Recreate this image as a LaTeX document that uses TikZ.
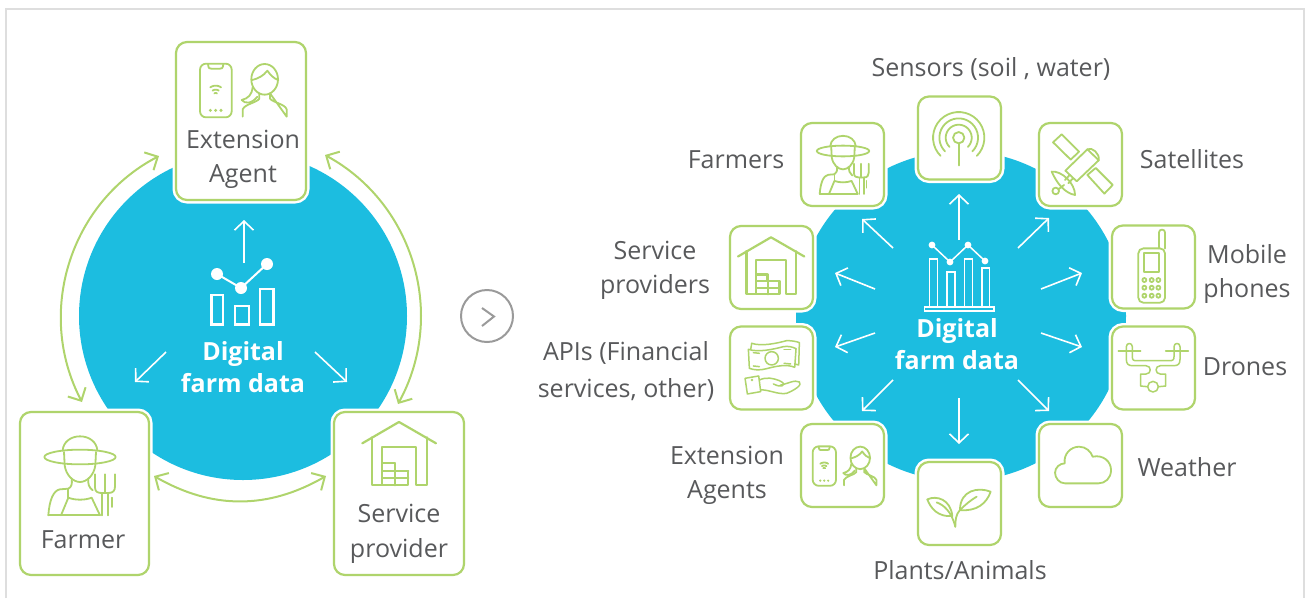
\documentclass[tikz,border=0pt]{standalone}
\usepackage{fontspec}
\setmainfont{Open Sans}
\usetikzlibrary{arrows.meta}
\definecolor{leaf}{HTML}{AFD46C}
\definecolor{hubblue}{HTML}{1CBDE0}
\definecolor{ink}{HTML}{58595B}
\definecolor{framegray}{HTML}{DEDEDE}
\definecolor{ringgray}{HTML}{9A9A9A}
\newcommand{\arcplot}[5]{\draw[shift={(#1,#2)}] plot[domain=#4:#5,samples=28] ({#3*cos(\x)},{#3*sin(\x)});}
\tikzset{
  x=1pt,y=-1pt,
  hub/.style={circle,fill=hubblue,minimum size=#1,inner sep=0pt,outer sep=0pt},
  card/.style={rectangle,rounded corners=11pt,draw=leaf,line width=2.2pt,fill=white,inner sep=0pt,outer sep=0pt,
    preaction={draw=white,line width=7pt}},
  smallcard/.style={card,minimum width=83pt,minimum height=83pt},
  label/.style={text=ink,font=\fontsize{25}{30}\selectfont,inner sep=0pt,align=center},
  hubtext/.style={text=white,font=\fontsize{25}{32}\selectfont\bfseries,inner sep=0pt,align=center},
  whitearrow/.style={draw=white,line width=1.6pt,-{Straight Barb[length=9pt,width=19pt,line width=1.6pt]}},
  greenarrow/.style={draw=leaf,line width=2pt,{Straight Barb[length=10pt,width=20pt,line width=2pt]}-{Straight Barb[length=10pt,width=20pt,line width=2pt]}},
  iconline/.style={draw=leaf,line width=#1,line join=round,line cap=round},
  iconline/.default=1.8pt,
  pics/agenticon/.style={code={
    \begin{scope}[shift={(-729,-270)},iconline]
      \draw[rounded corners=6pt] (600,191) rectangle (695,352);
      \draw (624,193) .. controls (626,206) and (628,206) .. (634,206) -- (660,206) .. controls (666,206) and (668,206) .. (670,193);
      \arcplot{647}{285}{28}{-125}{-55}
      \arcplot{647}{285}{16}{-125}{-55}
      \arcplot{647}{285}{6}{-130}{-50}
      \foreach \q in {631,647,663} {\fill[leaf] (\q,331) circle (5);}
      \draw (794,238) ellipse (40 and 46);
      \draw (757,240) .. controls (775,235) and (790,228) .. (802,212) .. controls (812,226) and (822,236) .. (835,240);
      \draw (758,262) .. controls (755,285) and (745,295) .. (725,300) .. controls (735,312) and (755,312) .. (772,290);
      \draw (728,350) -- (728,328) .. controls (735,312) and (770,308) .. (778,296) -- (778,280);
      \draw (810,280) -- (810,296) .. controls (820,308) and (855,312) .. (860,328) -- (860,350) -- cycle;
    \end{scope}}},
  pics/farmericon/.style={code={
    \begin{scope}[shift={(-240,-470)},iconline]
      \draw (240,470) ellipse (107 and 22);
      \draw (188,450) .. controls (190,425) and (212,408) .. (240,408) .. controls (268,408) and (290,425) .. (292,450);
      \draw (192,455) -- (194,495) .. controls (198,525) and (220,545) .. (240,545) .. controls (260,545) and (282,525) .. (286,495) -- (288,455);
      \draw (145,645) -- (300,645);
      \draw (145,645) .. controls (148,600) and (160,570) .. (180,567) -- (205,565) .. controls (215,560) and (217,550) .. (215,535);
      \draw (265,535) .. controls (263,550) and (267,562) .. (278,570);
      \draw (183,645) -- (205,592) .. controls (225,600) and (255,600) .. (275,592) -- (300,645);
      \draw (205,592) -- (205,565);
      \draw (285,522) -- (285,562) .. controls (285,575) and (295,578) .. (305,578) -- (325,578) .. controls (340,578) and (345,570) .. (345,558) -- (345,522);
      \draw (315,522) -- (315,578);
      \draw (307,578) -- (307,645);
      \draw (325,578) -- (325,645);
      \draw (336,592) -- (336,620);
    \end{scope}}},
  pics/barnicon/.style={code={
    \begin{scope}[shift={(-1197,-460)},iconline=2.2pt]
      \draw (1087,430) -- (1197,366) -- (1308,430);
      \draw (1115,412) -- (1115,556) -- (1147,556) -- (1147,441) -- (1248,441) -- (1248,556) -- (1280,556) -- (1280,412);
      \draw (1150,490) -- (1185,490) -- (1185,512) -- (1225,512) -- (1225,556) -- (1147,556);
      \draw (1150,512) -- (1225,512);
      \draw (1150,534) -- (1225,534);
      \draw (1186,490) -- (1186,556);
    \end{scope}}},
  pics/sensoricon/.style={code={
    \begin{scope}[iconline]
      \draw (0,0) circle (17);
      \draw (0,17) -- (0,83);
      \arcplot{0}{0}{39}{-225}{45}
      \arcplot{0}{0}{58}{-225}{45}
      \arcplot{0}{0}{77}{-225}{45}
    \end{scope}}},
  pics/saticon/.style={code={
    \begin{scope}[shift={(-242,-193)},iconline]
      \draw (159,127) -- (185,103) -- (237,155) -- (212,179) -- cycle;
      \draw (262,225) -- (287,204) -- (338,255) -- (313,281) -- cycle;
      \draw (196,212) -- (262,148) -- (296,181) -- (230,244) -- cycle;
      \draw (262,148) .. controls (275,140) and (300,160) .. (296,181);
      \draw (155,215) .. controls (185,212) and (225,250) .. (225,285);
      \draw (155,215) .. controls (170,250) and (195,280) .. (225,285);
      \draw (208,226) -- (195,240);
      \draw (218,236) -- (205,250);
      \draw (167,273) circle (10);
      \draw (175,268) -- (192,255);
    \end{scope}}},
  pics/phoneicon/.style={code={
    \begin{scope}[shift={(-459,-500)},iconline]
      \draw[rounded corners=5pt] (415,445) rectangle (495,608);
      \draw (477,445) -- (477,397) .. controls (477,386) and (495,386) .. (495,397) -- (495,445);
      \draw (431,459) rectangle (478,515);
      \foreach \q in {433,455,475} {\foreach \r in {540,563,587} {\draw (\q,\r) circle (6);}}
    \end{scope}}},
  pics/droneicon/.style={code={
    \begin{scope}[shift={(-459,-173)},iconline=1.5pt]
      \draw (355,123) -- (422,123);
      \draw (497,123) -- (565,123);
      \draw (379,123) -- (379,110) .. controls (379,97) and (397,97) .. (397,110) -- (397,123);
      \draw (522,123) -- (522,110) .. controls (522,97) and (540,97) .. (540,110) -- (540,123);
      \draw (397,123) -- (397,140) .. controls (397,150) and (400,152) .. (410,152) -- (508,152) .. controls (518,152) and (522,150) .. (522,140) -- (522,123);
      \draw (379,123) -- (379,148) .. controls (379,162) and (385,167) .. (398,167) -- (438,167) .. controls (455,167) and (455,192) .. (438,192) -- (422,192) -- (422,228) -- (443,230);
      \draw (540,123) -- (540,148) .. controls (540,162) and (534,167) .. (521,167) -- (481,167) .. controls (464,167) and (464,192) .. (481,192) -- (497,192) -- (497,228) -- (475,230);
      \draw (459,230) circle (16);
    \end{scope}}},
  pics/cloudicon/.style={code={
    \begin{scope}[shift={(-242,-467)},iconline]
      \draw (195,520) .. controls (177,520) and (165,503) .. (165,488) .. controls (165,472) and (180,460) .. (194,460) .. controls (190,432) and (212,410) .. (237,410) .. controls (258,410) and (272,424) .. (278,440) .. controls (310,433) and (333,455) .. (333,480) .. controls (333,505) and (315,520) .. (295,520) -- cycle;
    \end{scope}}},
  pics/planticon/.style={code={
    \begin{scope}[shift={(-718,-590)},iconline]
      \draw (622,568) .. controls (650,555) and (692,568) .. (697,618) .. controls (655,622) and (632,595) .. (622,568) -- cycle;
      \draw (812,545) .. controls (775,530) and (720,540) .. (720,600) .. controls (770,605) and (800,580) .. (812,545) -- cycle;
      \draw (650,577) .. controls (672,585) and (695,605) .. (706,650);
      \draw (722,598) .. controls (735,585) and (750,572) .. (770,560);
      \draw (706,650) .. controls (706,630) and (708,612) .. (720,600);
    \end{scope}}},
  pics/moneyicon/.style={code={
    \begin{scope}[shift={(-155,-175)},iconline=1.5pt]
      \draw (85,118) .. controls (115,128) and (160,118) .. (190,110) .. controls (205,108) and (215,110) .. (228,116) -- (224,172) .. controls (200,162) and (170,168) .. (140,176) .. controls (120,182) and (100,180) .. (88,175) -- cycle;
      \draw (95,100) .. controls (125,110) and (170,100) .. (200,92) .. controls (215,92) and (228,94) .. (238,98) -- (236,165) -- (224,162);
      \draw (95,100) -- (92,118);
      \draw (155,145) circle (20);
      \draw (100,128) -- (118,130);
      \draw (192,118) -- (212,118);
      \draw (100,168) -- (118,170);
      \draw (192,160) -- (212,162);
      \draw (75,205) -- (116,198) -- (122,245) -- (82,252) -- cycle;
      \draw (118,210) .. controls (140,200) and (160,205) .. (178,212) .. controls (190,218) and (195,222) .. (185,228) .. controls (178,230) and (168,226) .. (160,222);
      \draw (180,226) .. controls (200,222) and (225,208) .. (238,216) .. controls (248,224) and (225,240) .. (200,250) .. controls (175,255) and (145,238) .. (122,240);
      \fill[leaf] (96,210) circle (4);
    \end{scope}}}
}
\begin{document}
\begin{tikzpicture}
\useasboundingbox (0,0) rectangle (1306,598);
% frame
\coordinate (fa) at (6,598);
\coordinate (fb) at (6,9);
\coordinate (fc) at (1304,9);
\coordinate (fd) at (1304,598);
\draw[framegray,line width=1.6pt] (fa) -- (fb) -- (fc) -- (fd);

% hubs
\node[hub=328pt] (hubL) at (243,316) {};
\node[hub=330pt] (hubR) at (961,316) {};

% left cards
\node[card,minimum width=130pt,minimum height=158pt] (cardExt) at (241,121) {};
\node[card,minimum width=129pt,minimum height=163pt] (cardFarmer) at (84.5,493.5) {};
\node[card,minimum width=130pt,minimum height=163pt] (cardService) at (399,493.5) {};

% right cards
\node[smallcard] (rSensor) at (959.5,138) {};
\node[smallcard] (rFarmer) at (842.5,164.5) {};
\node[smallcard] (rService) at (771.5,267.5) {};
\node[smallcard] (rApi) at (771.5,368) {};
\node[smallcard] (rAgent) at (842.5,465.5) {};
\node[smallcard] (rPlant) at (959.5,503.5) {};
\node[smallcard] (rSat) at (1080.5,164.5) {};
\node[smallcard] (rPhone) at (1153.5,267) {};
\node[smallcard] (rDrone) at (1153.5,368) {};
\node[smallcard] (rCloud) at (1080.5,465.5) {};

% icons
\pic[scale=1/3] at (243,90) {agenticon};
\pic[scale=1/3] at (80,457) {farmericon};
\pic[scale=1/3] at (399,453.3) {barnicon};
\pic[scale=.245] at (843,151) {farmericon};
\pic[scale=.3] at (771,265.5) {barnicon};
\pic[scale=.245] at (844.3,465.7) {agenticon};
\pic[scale=1/3] at (958.7,137.7) {sensoricon};
\pic[scale=1/3] at (1080.7,164.3) {saticon};
\pic[scale=1/3] at (1153,266.7) {phoneicon};
\pic[scale=1/3] at (1153,367.7) {droneicon};
\pic[scale=1/3] at (1080.7,465.7) {cloudicon};
\pic[scale=1/3] at (959.3,506.7) {planticon};
\pic[scale=1/3] at (771.7,368.3) {moneyicon};

% green cycle arrows
\coordinate (gA1) at (159,156);
\coordinate (gA2) at (82,402);
\coordinate (gB1) at (325,155);
\coordinate (gB2) at (398,404);
\coordinate (gC1) at (154,476);
\coordinate (gC2) at (326,476);
\draw[greenarrow] (gA1) to[bend right=45] (gA2);
\draw[greenarrow] (gB1) to[bend left=45] (gB2);
\draw[greenarrow] (gC1) to[bend right=30] (gC2);

% left white arrows
\foreach \n/\ax/\ay/\bx/\by in {lu/244/263/244/220,ll/166/352/135/382,lr/315/352/347/382,
  ru/959/240/959/194,rf/893/248/862/219,rs/875/289/835/273,ra/875/333/835/347,re/893/380/862/411,
  rd/959/398/959/444,rw/1018/380/1049/411,rn/1041/333/1082/347,rm/1041/289/1082/273,rt/1018/248/1049/218}{
  \coordinate (\n a) at (\ax,\ay);
  \coordinate (\n b) at (\bx,\by);
  \draw[whitearrow] (\n a) -- (\n b);
}

% left chart
\begin{scope}[draw=white,line width=2pt]
  \coordinate (p1) at (217,274);
  \coordinate (p2) at (241,288);
  \coordinate (p3) at (267,264);
  \draw (p1) -- (p2) -- (p3);
  \fill[white] (p1) circle (6);
  \fill[white] (p2) circle (6);
  \fill[white] (p3) circle (6);
  \draw[line width=2.4pt] (211.5,295) rectangle (223,324.5);
  \draw[line width=2.4pt] (235,306) rectangle (249,324.5);
  \draw[line width=2.4pt] (260,289) rectangle (273.5,324.5);
\end{scope}

% right chart
\begin{scope}[draw=white,line width=1.5pt]
  \coordinate (q1) at (932,245);
  \coordinate (q2) at (950,262);
  \coordinate (q3) at (968,245);
  \coordinate (q4) at (985,261);
  \draw (q1) -- (q2) -- (q3) -- (q4);
  \foreach \q in {q1,q2,q3,q4} {\fill[white] (\q) circle (3.4);}
  \draw (929.5,259) rectangle (937.5,307);
  \draw (947,272) rectangle (955,307);
  \draw (964.5,259) rectangle (972.5,307);
  \draw (982,268) rectangle (989.5,307);
  \draw (924.5,307) rectangle (994,311);
\end{scope}

% ring between panels
\node[circle,draw=ringgray,line width=2pt,minimum size=52pt,inner sep=0pt] (nextRing) at (487,316) {};
\coordinate (ch1) at (482,308);
\coordinate (ch2) at (494,316.5);
\coordinate (ch3) at (482,326);
\draw[ringgray,line width=2pt] (ch1) -- (ch2) -- (ch3);

% texts
\node[hubtext] (tL) at (243,367) {Digital\\farm data};
\node[hubtext] (tR) at (957,344.5) {Digital\\farm data};
\node[label] (t1) at (243,139) {Extension};
\node[label] (t2) at (243,177) {Agent};
\node[label] (t3) at (83,540) {Farmer};
\node[label] (t4) at (399,513) {Service};
\node[label] (t5) at (399,551) {provider};
\node[label] (t6) at (991,69) {Sensors (soil , water)};
\node[label] (t7) at (736,160) {Farmers};
\node[label] (t8) at (1192,159) {Satellites};
\node[label] (t9) at (655,250) {Service};
\node[label] (t10) at (655,287) {providers};
\node[label] (t11) at (1247,254) {Mobile};
\node[label] (t12) at (1247,291) {phones};
\node[label] (t13) at (626,353) {APIs (Financial};
\node[label] (t14) at (626,390) {services, other)};
\node[label] (t15) at (1245,367) {Drones};
\node[label] (t16) at (1187,467) {Weather};
\node[label] (t17) at (727,455) {Extension};
\node[label] (t18) at (727,493) {Agents};
\node[label] (t19) at (960,570) {Plants/Animals};
\end{tikzpicture}
\end{document}
